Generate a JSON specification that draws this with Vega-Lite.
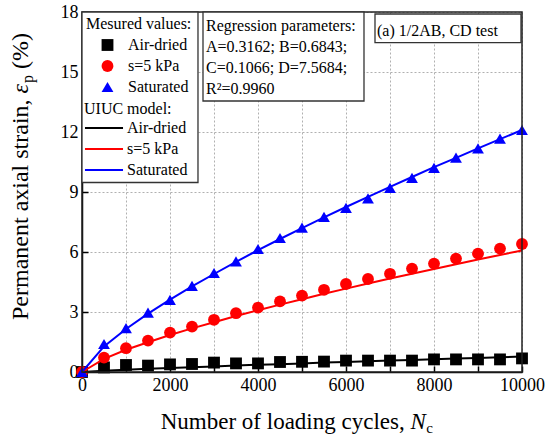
{
  "$schema": "https://vega.github.io/schema/vega-lite/v6.json",
  "width": 440,
  "height": 360,
  "autosize": {"type": "none"},
  "padding": {"left": 82, "top": 12, "right": 24, "bottom": 68},
  "background": "white",
  "config": {
    "font": "Liberation Serif",
    "view": {"stroke": null},
    "axis": {
      "domainColor": "#000",
      "domainWidth": 1.5,
      "tickColor": "#000",
      "tickWidth": 1.5,
      "tickSize": -6,
      "labelFont": "Liberation Serif",
      "labelFontSize": 18,
      "labelColor": "#000",
      "labelOverlap": false,
      "grid": true,
      "gridColor": "#b0b0b0",
      "gridOpacity": 1,
      "gridDash": [2, 2],
      "gridWidth": 1,
      "title": null
    },
    "legend": {
      "orient": "top-left",
      "offset": 0,
      "padding": 4,
      "titleFont": "Liberation Serif",
      "titleFontSize": 16,
      "titleFontWeight": "normal",
      "titleColor": "#000",
      "titlePadding": 5,
      "labelFont": "Liberation Serif",
      "labelFontSize": 16,
      "labelColor": "#000",
      "rowPadding": 5,
      "layout": {
        "direction": "vertical",
        "margin": 0,
        "anchor": "start",
        "top-left": {"direction": "vertical", "margin": 0, "anchor": "start"}
      }
    }
  },
  "datasets": {
    "measured": [
      {"N": 0, "series": "Air-dried", "eps": 0},
      {"N": 500, "series": "Air-dried", "eps": 0.23},
      {"N": 1000, "series": "Air-dried", "eps": 0.35},
      {"N": 1500, "series": "Air-dried", "eps": 0.32},
      {"N": 2000, "series": "Air-dried", "eps": 0.38},
      {"N": 2500, "series": "Air-dried", "eps": 0.40},
      {"N": 3000, "series": "Air-dried", "eps": 0.47},
      {"N": 3500, "series": "Air-dried", "eps": 0.43},
      {"N": 4000, "series": "Air-dried", "eps": 0.43},
      {"N": 4500, "series": "Air-dried", "eps": 0.50},
      {"N": 5000, "series": "Air-dried", "eps": 0.51},
      {"N": 5500, "series": "Air-dried", "eps": 0.52},
      {"N": 6000, "series": "Air-dried", "eps": 0.57},
      {"N": 6500, "series": "Air-dried", "eps": 0.57},
      {"N": 7000, "series": "Air-dried", "eps": 0.57},
      {"N": 7500, "series": "Air-dried", "eps": 0.57},
      {"N": 8000, "series": "Air-dried", "eps": 0.63},
      {"N": 8500, "series": "Air-dried", "eps": 0.63},
      {"N": 9000, "series": "Air-dried", "eps": 0.63},
      {"N": 9500, "series": "Air-dried", "eps": 0.63},
      {"N": 10000, "series": "Air-dried", "eps": 0.68},
      {"N": 0, "series": "s=5 kPa", "eps": 0},
      {"N": 500, "series": "s=5 kPa", "eps": 0.72},
      {"N": 1000, "series": "s=5 kPa", "eps": 1.19},
      {"N": 1500, "series": "s=5 kPa", "eps": 1.57},
      {"N": 2000, "series": "s=5 kPa", "eps": 1.97},
      {"N": 2500, "series": "s=5 kPa", "eps": 2.27},
      {"N": 3000, "series": "s=5 kPa", "eps": 2.61},
      {"N": 3500, "series": "s=5 kPa", "eps": 2.94},
      {"N": 4000, "series": "s=5 kPa", "eps": 3.22},
      {"N": 4500, "series": "s=5 kPa", "eps": 3.53},
      {"N": 5000, "series": "s=5 kPa", "eps": 3.82},
      {"N": 5500, "series": "s=5 kPa", "eps": 4.11},
      {"N": 6000, "series": "s=5 kPa", "eps": 4.40},
      {"N": 6500, "series": "s=5 kPa", "eps": 4.65},
      {"N": 7000, "series": "s=5 kPa", "eps": 4.91},
      {"N": 7500, "series": "s=5 kPa", "eps": 5.17},
      {"N": 8000, "series": "s=5 kPa", "eps": 5.42},
      {"N": 8500, "series": "s=5 kPa", "eps": 5.67},
      {"N": 9000, "series": "s=5 kPa", "eps": 5.92},
      {"N": 9500, "series": "s=5 kPa", "eps": 6.17},
      {"N": 10000, "series": "s=5 kPa", "eps": 6.40},
      {"N": 0, "series": "Saturated", "eps": 0},
      {"N": 500, "series": "Saturated", "eps": 1.40},
      {"N": 1000, "series": "Saturated", "eps": 2.19},
      {"N": 1500, "series": "Saturated", "eps": 2.97},
      {"N": 2000, "series": "Saturated", "eps": 3.61},
      {"N": 2500, "series": "Saturated", "eps": 4.31},
      {"N": 3000, "series": "Saturated", "eps": 4.95},
      {"N": 3500, "series": "Saturated", "eps": 5.53},
      {"N": 4000, "series": "Saturated", "eps": 6.15},
      {"N": 4500, "series": "Saturated", "eps": 6.70},
      {"N": 5000, "series": "Saturated", "eps": 7.22},
      {"N": 5500, "series": "Saturated", "eps": 7.76},
      {"N": 6000, "series": "Saturated", "eps": 8.21},
      {"N": 6500, "series": "Saturated", "eps": 8.68},
      {"N": 7000, "series": "Saturated", "eps": 9.21},
      {"N": 7500, "series": "Saturated", "eps": 9.71},
      {"N": 8000, "series": "Saturated", "eps": 10.21},
      {"N": 8500, "series": "Saturated", "eps": 10.72},
      {"N": 9000, "series": "Saturated", "eps": 11.18},
      {"N": 9500, "series": "Saturated", "eps": 11.67},
      {"N": 10000, "series": "Saturated", "eps": 12.10}
    ],
    "model": [
      {"N": 0, "curve": "Air-dried", "eps": 0},
      {"N": 500, "curve": "Air-dried", "eps": 0.06},
      {"N": 1000, "curve": "Air-dried", "eps": 0.11},
      {"N": 1500, "curve": "Air-dried", "eps": 0.16},
      {"N": 2000, "curve": "Air-dried", "eps": 0.20},
      {"N": 2500, "curve": "Air-dried", "eps": 0.24},
      {"N": 3000, "curve": "Air-dried", "eps": 0.28},
      {"N": 3500, "curve": "Air-dried", "eps": 0.32},
      {"N": 4000, "curve": "Air-dried", "eps": 0.36},
      {"N": 4500, "curve": "Air-dried", "eps": 0.39},
      {"N": 5000, "curve": "Air-dried", "eps": 0.43},
      {"N": 5500, "curve": "Air-dried", "eps": 0.47},
      {"N": 6000, "curve": "Air-dried", "eps": 0.50},
      {"N": 6500, "curve": "Air-dried", "eps": 0.54},
      {"N": 7000, "curve": "Air-dried", "eps": 0.57},
      {"N": 7500, "curve": "Air-dried", "eps": 0.60},
      {"N": 8000, "curve": "Air-dried", "eps": 0.64},
      {"N": 8500, "curve": "Air-dried", "eps": 0.67},
      {"N": 9000, "curve": "Air-dried", "eps": 0.70},
      {"N": 9500, "curve": "Air-dried", "eps": 0.74},
      {"N": 10000, "curve": "Air-dried", "eps": 0.77},
      {"N": 0, "curve": "s=5 kPa", "eps": 0},
      {"N": 500, "curve": "s=5 kPa", "eps": 0.66},
      {"N": 1000, "curve": "s=5 kPa", "eps": 1.11},
      {"N": 1500, "curve": "s=5 kPa", "eps": 1.49},
      {"N": 2000, "curve": "s=5 kPa", "eps": 1.85},
      {"N": 2500, "curve": "s=5 kPa", "eps": 2.18},
      {"N": 3000, "curve": "s=5 kPa", "eps": 2.49},
      {"N": 3500, "curve": "s=5 kPa", "eps": 2.80},
      {"N": 4000, "curve": "s=5 kPa", "eps": 3.09},
      {"N": 4500, "curve": "s=5 kPa", "eps": 3.37},
      {"N": 5000, "curve": "s=5 kPa", "eps": 3.64},
      {"N": 5500, "curve": "s=5 kPa", "eps": 3.91},
      {"N": 6000, "curve": "s=5 kPa", "eps": 4.17},
      {"N": 6500, "curve": "s=5 kPa", "eps": 4.42},
      {"N": 7000, "curve": "s=5 kPa", "eps": 4.67},
      {"N": 7500, "curve": "s=5 kPa", "eps": 4.91},
      {"N": 8000, "curve": "s=5 kPa", "eps": 5.15},
      {"N": 8500, "curve": "s=5 kPa", "eps": 5.39},
      {"N": 9000, "curve": "s=5 kPa", "eps": 5.62},
      {"N": 9500, "curve": "s=5 kPa", "eps": 5.85},
      {"N": 10000, "curve": "s=5 kPa", "eps": 6.08},
      {"N": 0, "curve": "Saturated", "eps": 0},
      {"N": 500, "curve": "Saturated", "eps": 1.28},
      {"N": 1000, "curve": "Saturated", "eps": 2.15},
      {"N": 1500, "curve": "Saturated", "eps": 2.92},
      {"N": 2000, "curve": "Saturated", "eps": 3.62},
      {"N": 2500, "curve": "Saturated", "eps": 4.28},
      {"N": 3000, "curve": "Saturated", "eps": 4.90},
      {"N": 3500, "curve": "Saturated", "eps": 5.51},
      {"N": 4000, "curve": "Saturated", "eps": 6.09},
      {"N": 4500, "curve": "Saturated", "eps": 6.65},
      {"N": 5000, "curve": "Saturated", "eps": 7.19},
      {"N": 5500, "curve": "Saturated", "eps": 7.73},
      {"N": 6000, "curve": "Saturated", "eps": 8.25},
      {"N": 6500, "curve": "Saturated", "eps": 8.76},
      {"N": 7000, "curve": "Saturated", "eps": 9.26},
      {"N": 7500, "curve": "Saturated", "eps": 9.75},
      {"N": 8000, "curve": "Saturated", "eps": 10.24},
      {"N": 8500, "curve": "Saturated", "eps": 10.71},
      {"N": 9000, "curve": "Saturated", "eps": 11.18},
      {"N": 9500, "curve": "Saturated", "eps": 11.64},
      {"N": 10000, "curve": "Saturated", "eps": 12.10}
    ]
  },
  "layer": [
    {
      "data": {"name": "measured"},
      "mark": {"type": "point", "filled": true, "opacity": 1, "size": 140, "strokeWidth": 0},
      "encoding": {
        "x": {
          "field": "N", "type": "quantitative",
          "scale": {"domain": [0, 10000], "nice": false, "zero": false},
          "axis": {
            "values": [0, 1000, 2000, 3000, 4000, 5000, 6000, 7000, 8000, 9000, 10000],
            "format": "d",
            "labelExpr": "datum.value % 2000 === 0 ? datum.label : ''",
            "labelFlush": false,
            "labelPadding": 10,
            "grid": true
          }
        },
        "y": {
          "field": "eps", "type": "quantitative",
          "scale": {"domain": [0, 18], "nice": false, "zero": false},
          "axis": {
            "values": [0, 1.5, 3, 4.5, 6, 7.5, 9, 10.5, 12, 13.5, 15, 16.5, 18],
            "format": "d",
            "labelExpr": "datum.value % 3 === 0 ? datum.label : ''",
            "labelPadding": 10,
            "grid": true
          }
        },
        "fill": {
          "field": "series", "type": "nominal",
          "scale": {"domain": ["Air-dried", "s=5 kPa", "Saturated"], "range": ["#000000", "#ff0000", "#0000ff"]},
          "legend": {
            "title": "Mesured values:",
            "symbolSize": 140,
            "symbolStrokeWidth": 0,
            "symbolOffset": 13.5,
            "labelOffset": 12.5
          }
        },
        "shape": {
          "field": "series", "type": "nominal",
          "scale": {"domain": ["Air-dried", "s=5 kPa", "Saturated"], "range": ["square", "circle", "triangle-up"]},
          "legend": {
            "title": "Mesured values:",
            "symbolSize": 140,
            "symbolStrokeWidth": 0,
            "symbolOffset": 13.5,
            "labelOffset": 12.5
          }
        }
      }
    },
    {
      "data": {"name": "model"},
      "mark": {"type": "line", "strokeWidth": 2},
      "encoding": {
        "x": {"field": "N", "type": "quantitative"},
        "y": {"field": "eps", "type": "quantitative"},
        "stroke": {
          "field": "curve", "type": "nominal",
          "sort": ["Air-dried", "s=5 kPa", "Saturated"],
          "scale": {"range": ["#000000", "#ff0000", "#0000ff"]},
          "legend": {
            "title": "UIUC model:",
            "padding": 2,
            "titlePadding": 3,
            "symbolType": "M-3.17,0H3.17",
            "symbolSize": 144,
            "symbolStrokeWidth": 2,
            "symbolOffset": 12,
            "labelOffset": 15
          }
        }
      }
    },
    {
      "data": {"values": [{}]},
      "mark": {"type": "rect", "fill": null, "stroke": "#222", "strokeWidth": 1.5},
      "encoding": {
        "x": {"datum": 0}, "x2": {"datum": 10000},
        "y": {"datum": 0}, "y2": {"datum": 18}
      }
    },
    {
      "data": {"values": [{}]},
      "mark": {"type": "rect", "fill": "white", "stroke": "#333", "strokeWidth": 1.3},
      "encoding": {
        "x": {"datum": 0}, "x2": {"datum": 2636},
        "y": {"datum": 9.475}, "y2": {"datum": 18}
      }
    },
    {
      "data": {"values": [{}]},
      "mark": {"type": "rect", "fill": "white", "stroke": "#333", "strokeWidth": 1.3},
      "encoding": {
        "x": {"datum": 2750}, "x2": {"datum": 6409},
        "y": {"datum": 13.55}, "y2": {"datum": 18}
      }
    },
    {
      "data": {"values": [{}]},
      "mark": {"type": "rect", "fill": "white", "stroke": "#333", "strokeWidth": 1.3},
      "encoding": {
        "x": {"datum": 6659}, "x2": {"datum": 9977},
        "y": {"datum": 16.465}, "y2": {"datum": 17.9}
      }
    },
    {
      "data": {"values": [{}]},
      "mark": {
        "type": "text",
        "text": ["Regression parameters:", "A=0.3162; B=0.6843;", "C=0.1066; D=7.5684;", "R²=0.9960"],
        "align": "left", "baseline": "alphabetic", "lineHeight": 21,
        "font": "Liberation Serif", "fontSize": 16, "color": "#000"
      },
      "encoding": {"x": {"datum": 2818}, "y": {"datum": 17.075}}
    },
    {
      "data": {"values": [{}]},
      "mark": {
        "type": "text", "text": "(a) 1/2AB, CD test",
        "align": "left", "baseline": "alphabetic",
        "font": "Liberation Serif", "fontSize": 16, "color": "#000"
      },
      "encoding": {"x": {"datum": 6705}, "y": {"datum": 16.82}}
    },
    {
      "data": {"values": [{}]},
      "mark": {
        "type": "text", "text": "Number of loading cycles,",
        "align": "right", "baseline": "alphabetic",
        "font": "Liberation Serif", "fontSize": 23, "color": "#000"
      },
      "encoding": {"x": {"datum": 7334}, "y": {"datum": -2.865}}
    },
    {
      "data": {"values": [{}]},
      "mark": {
        "type": "text", "text": "N",
        "align": "left", "baseline": "alphabetic", "fontStyle": "italic", "dx": 5.75,
        "font": "Liberation Serif", "fontSize": 23, "color": "#000"
      },
      "encoding": {"x": {"datum": 7334}, "y": {"datum": -2.865}}
    },
    {
      "data": {"values": [{}]},
      "mark": {
        "type": "text", "text": "c",
        "align": "left", "baseline": "alphabetic", "dx": 21.5, "dy": 4,
        "font": "Liberation Serif", "fontSize": 15, "color": "#000"
      },
      "encoding": {"x": {"datum": 7334}, "y": {"datum": -2.865}}
    },
    {
      "data": {"values": [{}]},
      "mark": {
        "type": "text", "text": "Permanent axial strain,", "angle": 270,
        "align": "right", "baseline": "alphabetic",
        "font": "Liberation Serif", "fontSize": 24, "color": "#000"
      },
      "encoding": {"x": {"datum": -1216}, "y": {"datum": 13.63}}
    },
    {
      "data": {"values": [{}]},
      "mark": {
        "type": "text", "text": "ε", "angle": 270,
        "align": "left", "baseline": "alphabetic", "fontStyle": "italic", "dx": 6,
        "font": "Liberation Serif", "fontSize": 24, "color": "#000"
      },
      "encoding": {"x": {"datum": -1216}, "y": {"datum": 13.63}}
    },
    {
      "data": {"values": [{}]},
      "mark": {
        "type": "text", "text": "p", "angle": 270,
        "align": "left", "baseline": "alphabetic", "dx": 16.5, "dy": 5,
        "font": "Liberation Serif", "fontSize": 16, "color": "#000"
      },
      "encoding": {"x": {"datum": -1216}, "y": {"datum": 13.63}}
    },
    {
      "data": {"values": [{}]},
      "mark": {
        "type": "text", "text": "(%)", "angle": 270,
        "align": "left", "baseline": "alphabetic", "dx": 30.5,
        "font": "Liberation Serif", "fontSize": 24, "color": "#000"
      },
      "encoding": {"x": {"datum": -1216}, "y": {"datum": 13.63}}
    }
  ]
}
